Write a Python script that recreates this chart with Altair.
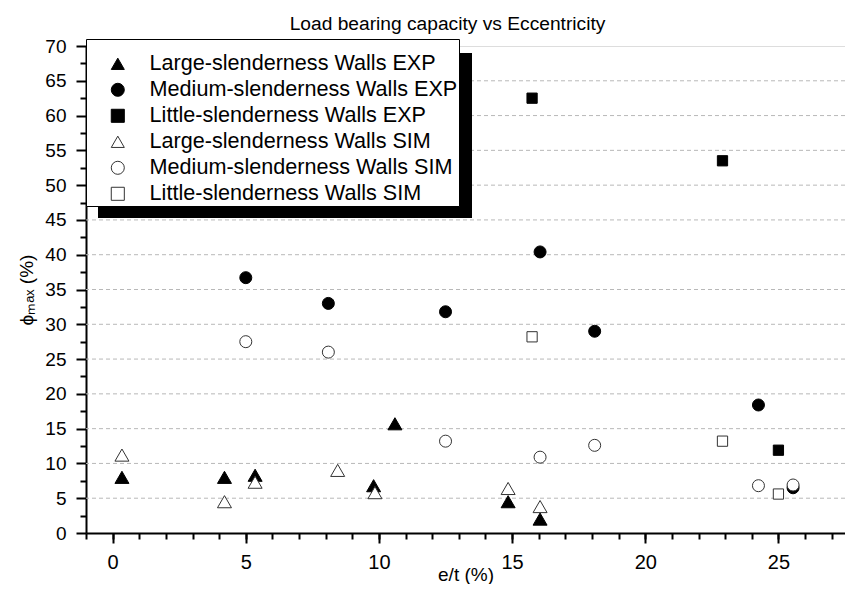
import altair as alt
import pandas as pd

series_names = [
    "Large-slenderness Walls EXP",
    "Medium-slenderness Walls EXP",
    "Little-slenderness Walls EXP",
    "Large-slenderness Walls SIM",
    "Medium-slenderness Walls SIM",
    "Little-slenderness Walls SIM",
]

large_exp_x = [0.35, 4.2, 5.35, 9.8, 10.6, 14.85, 16.05]
large_exp_y = [8.0, 8.0, 8.3, 6.8, 15.7, 4.5, 2.0]
medium_exp_x = [5.0, 8.1, 12.5, 16.05, 18.1, 24.25, 25.55]
medium_exp_y = [36.7, 33.0, 31.8, 40.4, 29.0, 18.4, 6.5]
little_exp_x = [15.75, 22.9, 25.0]
little_exp_y = [62.5, 53.5, 11.9]
large_sim_x = [0.35, 4.2, 5.35, 8.45, 9.85, 14.85, 16.05]
large_sim_y = [11.2, 4.5, 7.3, 9.0, 5.8, 6.4, 3.8]
medium_sim_x = [5.0, 8.1, 12.5, 16.05, 18.1, 24.25, 25.55]
medium_sim_y = [27.5, 26.0, 13.2, 10.9, 12.6, 6.8, 6.9]
little_sim_x = [15.75, 22.9, 25.0]
little_sim_y = [28.2, 13.2, 5.6]

grid_values = [5, 10, 15, 20, 25, 30, 35, 40, 45, 50, 55, 60, 65]
x_major = [0, 5, 10, 15, 20, 25]
x_minor = list(range(-1, 28))
y_major = [0, 5, 10, 15, 20, 25, 30, 35, 40, 45, 50, 55, 60, 65, 70]
y_minor = [2.5, 7.5, 12.5, 17.5, 22.5, 27.5, 32.5, 37.5, 42.5, 47.5, 52.5, 57.5, 62.5, 67.5]

groups = [
    (series_names[0], "tri", large_exp_x, large_exp_y),
    (series_names[1], "circ", medium_exp_x, medium_exp_y),
    (series_names[2], "sq", little_exp_x, little_exp_y),
    (series_names[3], "tri", large_sim_x, large_sim_y),
    (series_names[4], "circ", medium_sim_x, medium_sim_y),
    (series_names[5], "sq", little_sim_x, little_sim_y),
]
rows = []
for name, kind, xs, ys in groups:
    for xv, yv in zip(xs, ys):
        rows.append({"series": name, "kind": kind, "et": xv, "phi": yv})
df = pd.DataFrame(rows)

FONT = "Liberation Sans"

xscale = alt.Scale(domain=[-1, 27.5], nice=False, zero=False)
yscale = alt.Scale(domain=[0, 70], nice=False, zero=False)

shape_scale = alt.Scale(domain=series_names,
                        range=["triangle-up", "circle", "square", "triangle-up", "circle", "square"])
fill_scale = alt.Scale(domain=series_names, range=["black"] * 3 + ["white"] * 3)
stroke_scale = alt.Scale(domain=series_names, range=["black"] * 3 + ["#333333"] * 3)

legend = alt.Legend(
    title=" ", titleFontSize=4, titlePadding=9,
    orient="none", legendX=0, legendY=-7,
    fillColor="white", strokeColor="black", padding=1,
    labelFont=FONT, labelFontSize=21.6, labelColor="black", labelLimit=500,
    rowPadding=3.0, symbolOffset=20, labelOffset=21, symbolSize=170,
    symbolStrokeWidth=1,
)

x_axis_major = alt.Axis(
    values=x_major, orient="bottom", tickSize=10, tickWidth=2, tickColor="black",
    domainWidth=2, domainColor="black", labelFont=FONT, labelFontSize=20, labelColor="black",
    labelPadding=9, title="e/t (%)", titleFont=FONT, titleFontSize=19, titleFontWeight="normal",
    titleColor="black", titlePadding=-7, grid=False,
)
x_axis_minor = alt.Axis(
    values=x_minor, orient="bottom", tickSize=6, tickWidth=2, tickColor="black",
    domain=False, labels=False, title=None, grid=False,
)
y_axis_major = alt.Axis(
    values=y_major, orient="left", tickSize=10, tickWidth=2, tickColor="black",
    domainWidth=2, domainColor="black", labelFont=FONT, labelFontSize=19, labelColor="black",
    labelPadding=10, title="ϕₘₐₓ (%)", titleFont=FONT, titleFontSize=19, titleFontWeight="normal",
    titleColor="black", titlePadding=8, grid=False,
)
y_axis_minor = alt.Axis(
    values=y_minor, orient="left", tickSize=6, tickWidth=2, tickColor="black",
    domain=False, labels=False, title=None, grid=False,
)

grid = alt.Chart(pd.DataFrame({"g": grid_values})).mark_rule(
    color="#b8b8b8", strokeDash=[4, 3], strokeWidth=1
).encode(y=alt.Y("g:Q", scale=yscale, axis=None))

shadow = alt.Chart(pd.DataFrame({"a": [0]})).mark_rect(color="black").encode(
    x=alt.value(12), x2=alt.value(386), y=alt.value(7), y2=alt.value(172)
)

minor = alt.Chart(df).mark_point(opacity=0).encode(
    x=alt.X("et:Q", scale=xscale, axis=x_axis_minor),
    y=alt.Y("phi:Q", scale=yscale, axis=y_axis_minor),
)


def point_layer(kind, size, with_axes):
    xa = x_axis_major if with_axes else None
    ya = y_axis_major if with_axes else None
    return alt.Chart(df[df["kind"] == kind]).mark_point(
        size=size, opacity=1, fillOpacity=1, strokeOpacity=1, strokeWidth=1
    ).encode(
        x=alt.X("et:Q", scale=xscale, axis=xa),
        y=alt.Y("phi:Q", scale=yscale, axis=ya),
        shape=alt.Shape("series:N", scale=shape_scale, legend=legend),
        fill=alt.Fill("series:N", scale=fill_scale, legend=legend),
        stroke=alt.Stroke("series:N", scale=stroke_scale, legend=legend),
    )


tri = point_layer("tri", 196, True)
circ = point_layer("circ", 144, False)
sq = point_layer("sq", 105, False)

chart = alt.layer(grid, shadow, minor, tri, circ, sq).resolve_axis(
    x="independent", y="independent"
).properties(
    width=759, height=487,
    padding={"left": 78, "top": 38, "right": 0, "bottom": 51},
    autosize=alt.AutoSizeParams(type="none"),
    title=alt.TitleParams(
        text="Load bearing capacity vs Eccentricity", font=FONT, fontSize=19.2,
        fontWeight="normal", color="black", anchor="middle", dx=-18, offset=3, frame="group",
    ),
).configure_view(stroke=None).configure(background="white")

chart.save("out.html", embed_options={"renderer": "svg", "actions": False})
